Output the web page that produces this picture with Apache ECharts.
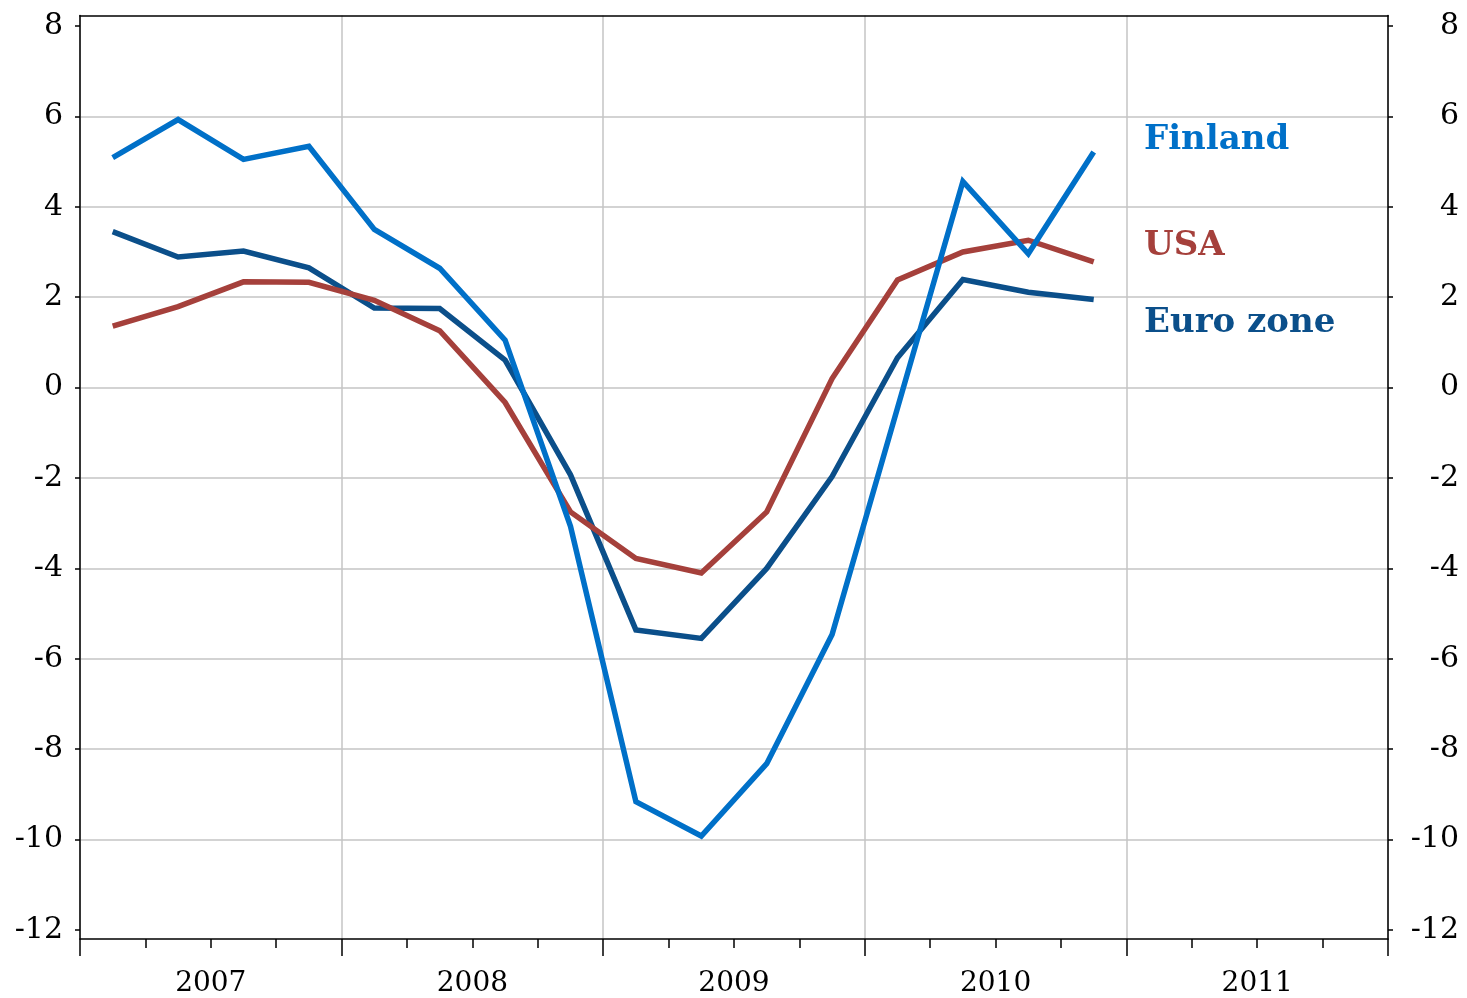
<!DOCTYPE html>
<html>
<head>
<meta charset="utf-8">
<script src="https://cdn.jsdelivr.net/npm/echarts@6/dist/echarts.min.js"></script>
<style>
html,body{margin:0;padding:0;background:#fff;}
#chart{width:1467px;height:998px;}
</style>
</head>
<body>
<div id="chart"></div>
<script>
// Quarters 2007Q1 .. 2011Q4
const quarters = [
  '2007Q1','2007Q2','2007Q3','2007Q4',
  '2008Q1','2008Q2','2008Q3','2008Q4',
  '2009Q1','2009Q2','2009Q3','2009Q4',
  '2010Q1','2010Q2','2010Q3','2010Q4',
  '2011Q1','2011Q2','2011Q3','2011Q4'
];
const years = ['2007','2008','2009','2010','2011'];

const finland = [5.09, 5.93, 5.05, 5.34, 3.50, 2.64, 1.05, -3.07, -9.16, -9.92, -8.32, -5.46, -0.45, 4.56, 2.96, 5.21];
const usa     = [1.36, 1.79, 2.34, 2.33, 1.93, 1.26, -0.33, -2.75, -3.78, -4.10, -2.75, 0.20, 2.38, 3.00, 3.26, 2.78];
const euro    = [3.45, 2.89, 3.02, 2.65, 1.76, 1.75, 0.61, -1.93, -5.36, -5.55, -4.00, -1.97, 0.66, 2.39, 2.11, 1.95];

const seriesNames = ['Finland', 'USA', 'Euro zone'];
const colors = {Finland: '#0070C8', USA: '#A5403B', 'Euro zone': '#0B4F8A'};

const FONT = 'DejaVu Serif';
const gridColor = '#c4c4c4';

const chart = echarts.init(document.getElementById('chart'), null, {renderer: 'canvas'});

const yLabelStyle = {fontFamily: FONT, fontSize: 30, color: '#000'};

const option = {
  animation: false,
  backgroundColor: '#fff',
  grid: [
    {left: 80, right: 79, top: 15.5, bottom: 57, containLabel: false},
    {left: 80, right: 79, top: 26, bottom: 68, containLabel: false}
  ],
  xAxis: [
    { // frame bottom with ticks & vertical gridlines
      gridIndex: 0, type: 'value', min: 0, max: 20, interval: 4, position: 'bottom',
      axisLine: {show: true, lineStyle: {color: '#000', width: 1.5}},
      axisTick: {show: true, length: 17, lineStyle: {color: '#000', width: 1.5}},
      minorTick: {show: true, splitNumber: 4, length: 9, lineStyle: {color: '#000', width: 1.5}},
      splitLine: {show: true, lineStyle: {color: gridColor, width: 1.5}},
      minorSplitLine: {show: false},
      axisLabel: {show: false}
    },
    { // year labels centered on each year
      gridIndex: 0, type: 'value', min: 0, max: 20, interval: 2, position: 'bottom',
      axisLine: {show: false}, axisTick: {show: false}, splitLine: {show: false},
      axisLabel: {
        show: true, margin: 31, fontFamily: FONT, fontSize: 28, color: '#000',
        formatter: function (v) {
          if (v % 4 === 2) { return years[(v - 2) / 4]; }
          return '';
        }
      }
    },
    { // frame top
      gridIndex: 0, type: 'value', min: 0, max: 20, position: 'top',
      axisLine: {show: true, onZero: false, lineStyle: {color: '#000', width: 1.5}},
      axisTick: {show: false}, axisLabel: {show: false}, splitLine: {show: false}
    },
    { // data axis
      gridIndex: 1, type: 'category', data: quarters, boundaryGap: true, show: false
    }
  ],
  yAxis: [
    {
      gridIndex: 0, type: 'value', min: 0, max: 1, position: 'left',
      axisLine: {show: true, onZero: false, lineStyle: {color: '#000', width: 1.5}},
      axisTick: {show: false}, axisLabel: {show: false}, splitLine: {show: false}
    },
    {
      gridIndex: 0, type: 'value', min: 0, max: 1, position: 'right',
      axisLine: {show: true, onZero: false, lineStyle: {color: '#000', width: 1.5}},
      axisTick: {show: false}, axisLabel: {show: false}, splitLine: {show: false}
    },
    {
      gridIndex: 1, type: 'value', min: -12, max: 8, interval: 2, position: 'left',
      axisLine: {show: false},
      axisTick: {show: true, inside: false, length: 5, lineStyle: {color: '#000', width: 1.5}},
      axisLabel: Object.assign({margin: 17, align: 'right'}, yLabelStyle),
      splitLine: {
        show: true,
        lineStyle: {
          width: 1.5,
          color: ['rgba(0,0,0,0)', gridColor, gridColor, gridColor, gridColor, gridColor,
                  gridColor, gridColor, gridColor, gridColor, 'rgba(0,0,0,0)']
        }
      }
    },
    {
      gridIndex: 1, type: 'value', min: -12, max: 8, interval: 2, position: 'right',
      axisLine: {show: false},
      axisTick: {show: true, inside: false, length: 5, lineStyle: {color: '#000', width: 1.5}},
      axisLabel: Object.assign({margin: 71, align: 'right'}, yLabelStyle),
      splitLine: {show: false}
    }
  ],
  series: [
    {name: 'Euro zone', data: euro},
    {name: 'USA', data: usa},
    {name: 'Finland', data: finland}
  ].map(s => ({
    name: s.name, type: 'line', xAxisIndex: 3, yAxisIndex: 2, data: s.data,
    symbol: 'none', smooth: false,
    lineStyle: {color: colors[s.name], width: 5.5, cap: 'butt', join: 'miter'},
    itemStyle: {color: colors[s.name]},
    z: 3
  })),
  graphic: [
    {type: 'text', left: 1144, top: 123, style: {text: 'Finland', fill: colors.Finland, font: 'bold 34px "DejaVu Serif"'}},
    {type: 'text', left: 1144, top: 229, style: {text: 'USA', fill: colors.USA, font: 'bold 34px "DejaVu Serif"'}},
    {type: 'text', left: 1144, top: 306, style: {text: 'Euro zone', fill: colors['Euro zone'], font: 'bold 34px "DejaVu Serif"'}}
  ]
};

chart.setOption(option);
</script>
</body>
</html>
